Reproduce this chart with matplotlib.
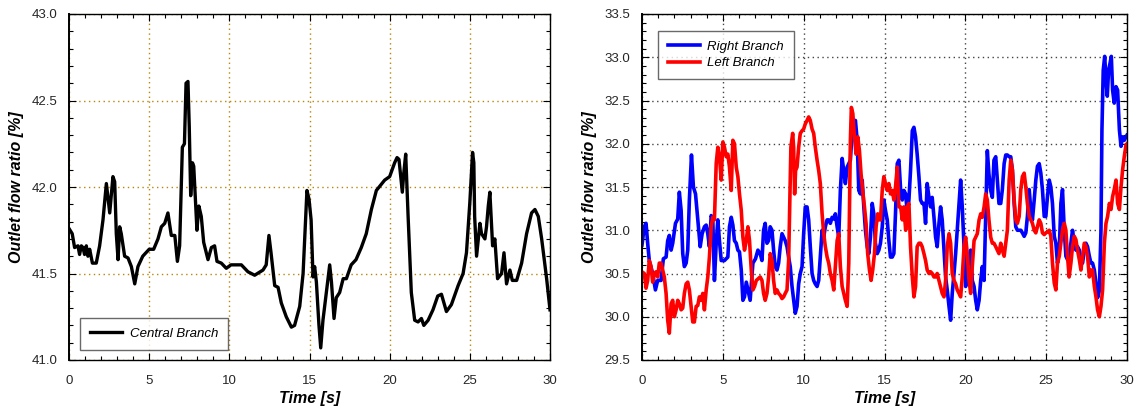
import matplotlib
matplotlib.use("Agg")
import matplotlib.pyplot as plt
from matplotlib.ticker import MultipleLocator, FormatStrFormatter

plt.rcParams['font.family'] = ['Liberation Sans', 'DejaVu Sans']

# ---------------- Left panel: central branch ----------------
t_central = [0, 0.2, 0.35, 0.56, 0.66, 0.77, 0.87, 0.97, 1.08, 1.18,
             1.29, 1.46, 1.7, 1.91, 2.12, 2.33, 2.44, 2.54, 2.74, 2.85,
             2.95, 3.06, 3.16, 3.26, 3.47, 3.68, 3.89, 4.1, 4.3, 4.6,
             5.0, 5.28, 5.55, 5.76, 5.97, 6.17, 6.38, 6.6, 6.76, 6.9,
             7.07, 7.2, 7.3, 7.42, 7.5, 7.59, 7.7, 7.78, 7.88, 7.98,
             8.1, 8.25, 8.4, 8.67, 8.88, 9.08, 9.23, 9.5, 9.81, 10.1,
             10.75, 11.16, 11.58, 12.1, 12.3, 12.47, 12.6, 12.83, 13.04, 13.24,
             13.55, 13.87, 14.07, 14.39, 14.6, 14.84, 14.97, 15.1, 15.22, 15.32,
             15.43, 15.59, 15.7, 15.84, 16.0, 16.26, 16.37, 16.53, 16.67, 16.88,
             17.1, 17.3, 17.6, 17.9, 18.23, 18.54, 18.86, 19.17, 19.69, 20.0,
             20.31, 20.46, 20.58, 20.79, 20.88, 21.0, 21.15, 21.35, 21.56, 21.77,
             21.98, 22.13, 22.4, 22.7, 23.0, 23.23, 23.54, 23.85, 24.27, 24.58,
             24.79, 25.0, 25.17, 25.25, 25.3, 25.42, 25.63, 25.73, 25.94, 26.04,
             26.15, 26.25, 26.42, 26.56, 26.73, 26.98, 27.13, 27.29, 27.5, 27.65,
             27.92, 28.23, 28.54, 28.85, 29.06, 29.27, 29.48, 29.79, 30.0]
central = [41.76, 41.73, 41.65, 41.66, 41.61, 41.66, 41.65, 41.61, 41.66, 41.60,
           41.64, 41.56, 41.56, 41.66, 41.81, 42.02, 41.93, 41.85, 42.06, 42.03,
           41.73, 41.58, 41.77, 41.73, 41.60, 41.59, 41.54, 41.44, 41.54, 41.60,
           41.64, 41.64, 41.70, 41.77, 41.79, 41.85, 41.72, 41.72, 41.57, 41.66,
           42.23, 42.25, 42.60, 42.61, 42.35, 41.95, 42.14, 42.12, 41.93, 41.75,
           41.89, 41.83, 41.68, 41.58, 41.65, 41.66, 41.57, 41.56, 41.53, 41.55,
           41.55, 41.51, 41.49, 41.52, 41.55, 41.72, 41.62, 41.43, 41.42, 41.33,
           41.25, 41.19, 41.20, 41.31, 41.50, 41.98, 41.93, 41.81, 41.48, 41.54,
           41.45, 41.20, 41.07, 41.23, 41.35, 41.55, 41.45, 41.24, 41.36, 41.39,
           41.47, 41.47, 41.55, 41.58, 41.65, 41.73, 41.87, 41.98, 42.04, 42.06,
           42.14, 42.17, 42.16, 41.97, 42.08, 42.19, 41.83, 41.39, 41.23, 41.22,
           41.24, 41.20, 41.23, 41.29, 41.37, 41.38, 41.28, 41.32, 41.43, 41.50,
           41.62, 41.91, 42.20, 42.14, 41.83, 41.60, 41.79, 41.73, 41.70, 41.77,
           41.89, 41.97, 41.66, 41.70, 41.47, 41.50, 41.62, 41.44, 41.52, 41.46,
           41.46, 41.56, 41.73, 41.85, 41.87, 41.83, 41.70, 41.47, 41.29]

# ---------------- Right panel: right branch (blue) ----------------
t_right = [0, 0.14, 0.25, 0.35, 0.45, 0.66, 0.83, 0.97, 1.18, 1.32,
           1.49, 1.59, 1.69, 1.8, 1.9, 2.07, 2.21, 2.31, 2.42, 2.52,
           2.62, 2.73, 2.83, 2.93, 3.06, 3.18, 3.31, 3.45, 3.6, 3.72,
           3.86, 3.97, 4.07, 4.17, 4.28, 4.38, 4.48, 4.59, 4.69, 4.79,
           4.9, 5.1, 5.31, 5.41, 5.52, 5.62, 5.72, 5.83, 5.93, 6.03,
           6.14, 6.24, 6.34, 6.45, 6.55, 6.69, 6.86, 7.02, 7.17,
           7.31, 7.42, 7.52, 7.62, 7.73, 7.83, 7.93, 8.04, 8.14, 8.24,
           8.35, 8.45, 8.55, 8.66, 8.76, 8.86, 8.97, 9.07, 9.17, 9.28,
           9.38, 9.48, 9.59, 9.69, 9.79, 9.9, 10.0, 10.1, 10.21, 10.31,
           10.41, 10.52, 10.62, 10.72, 10.83, 10.93, 11.03, 11.14, 11.24, 11.34,
           11.45, 11.55, 11.65, 11.76, 11.86, 11.96, 12.07, 12.17, 12.27, 12.38,
           12.48, 12.58, 12.69, 12.79, 12.89, 12.99, 13.1, 13.2, 13.31, 13.41,
           13.51, 13.62, 13.72, 13.82, 13.93, 14.03, 14.13, 14.24, 14.34, 14.44,
           14.55, 14.65,
           14.75, 14.86, 14.96, 15.06, 15.17, 15.27, 15.37, 15.48, 15.58, 15.68,
           15.79, 15.89, 16.0, 16.1, 16.2, 16.31, 16.41, 16.51, 16.61, 16.72,
           16.82, 16.92, 17.02, 17.13, 17.23, 17.33, 17.44, 17.54, 17.64, 17.75,
           17.85, 17.95, 18.06, 18.16, 18.26, 18.37, 18.47, 18.57, 18.68, 18.78,
           18.88, 18.99, 19.09, 19.19, 19.3, 19.4, 19.5, 19.61, 19.71, 19.81,
           19.92, 20.02, 20.12, 20.23, 20.33, 20.43, 20.54, 20.64, 20.74, 20.85,
           20.95, 21.05, 21.16, 21.26, 21.36, 21.46, 21.57, 21.67, 21.77, 21.88,
           21.98, 22.08,
           22.19, 22.29, 22.40, 22.50, 22.60, 22.71, 22.81, 22.91, 23.02, 23.12,
           23.22, 23.33, 23.43, 23.53, 23.64, 23.74, 23.84, 23.95, 24.05, 24.15,
           24.26, 24.36, 24.46, 24.57, 24.67, 24.77, 24.88, 24.98, 25.08, 25.19,
           25.29, 25.39, 25.5, 25.6, 25.7, 25.81, 25.91, 26.01, 26.12, 26.22,
           26.32, 26.42, 26.53, 26.63, 26.74, 26.84, 26.94, 27.05, 27.15, 27.25,
           27.36, 27.46, 27.56, 27.67, 27.77, 27.87, 27.98, 28.08, 28.18, 28.29,
           28.39, 28.45, 28.53, 28.62, 28.7, 28.78, 28.86, 28.95, 29.03, 29.11,
           29.21, 29.32, 29.42, 29.53, 29.63, 29.73, 29.83, 29.94, 30.0]
right_branch = [30.83, 31.04, 31.08, 30.85, 30.65, 30.50, 30.31, 30.42, 30.42, 30.67,
                30.69, 30.88, 30.94, 30.77, 30.85, 31.08, 31.13, 31.44, 31.23, 30.73,
                30.58, 30.62, 30.77, 31.35, 31.87, 31.50, 31.42, 31.12, 30.81, 30.96,
                31.04, 31.06, 30.96, 30.81, 31.17, 31.12, 30.42, 30.85, 31.12, 30.88,
                30.65, 30.65, 30.69, 31.04, 31.15, 31.06, 30.88, 30.85, 30.77, 30.75,
                30.54, 30.19, 30.23, 30.40, 30.31, 30.19, 30.62, 30.67, 30.77,
                30.73, 30.65, 31.00, 31.08, 30.85, 30.88, 31.04, 31.00, 30.77, 30.58,
                30.54, 30.62, 30.81, 30.96, 30.92, 30.88, 30.81, 30.69, 30.58, 30.35,
                30.19, 30.04, 30.12, 30.38, 30.50, 30.58, 30.96, 31.27, 31.27, 31.12,
                30.81, 30.50, 30.42, 30.38, 30.35, 30.42, 30.69, 31.00, 30.92, 31.04,
                31.12, 31.12, 31.08, 31.15, 31.13, 31.19, 31.04, 30.92, 31.46, 31.83,
                31.69, 31.54, 31.73, 31.77, 31.81, 32.12, 32.19, 32.27, 32.04, 31.46,
                31.42, 31.58, 31.27, 31.00, 30.81, 30.73, 30.92, 31.31, 31.19, 30.85,
                30.73, 30.77,
                30.85, 31.04, 31.35, 31.23, 31.12, 30.88, 30.69, 30.69, 30.73, 31.19,
                31.77, 31.81, 31.46, 31.35, 31.46, 31.42, 31.19, 31.35, 31.69, 32.15,
                32.19, 32.08, 31.88, 31.62, 31.35, 31.31, 31.31, 31.08, 31.54, 31.38,
                31.27, 31.38, 31.15, 30.92, 30.81, 31.08, 31.27, 31.12, 30.77, 30.46,
                30.31, 30.12, 29.96, 30.27, 30.50, 30.73, 31.00, 31.31, 31.58, 31.27,
                30.81, 30.35, 30.58, 30.65, 30.77, 30.42, 30.35, 30.19, 30.08, 30.19,
                30.42, 30.58, 30.42, 31.19, 31.92, 31.65, 31.46, 31.38, 31.81, 31.85,
                31.58, 31.31,
                31.31, 31.47, 31.77, 31.87, 31.87, 31.85, 31.85, 31.70, 31.31, 31.04,
                31.00, 31.00, 31.00, 30.97, 30.93, 30.97, 31.16, 31.47, 31.24, 31.12,
                31.35, 31.58, 31.74, 31.77, 31.66, 31.47, 31.16, 31.16, 31.39, 31.58,
                31.50, 31.31, 30.93, 30.85, 30.62, 30.77, 31.31, 31.47, 31.00, 30.70,
                30.66, 30.70, 30.85, 31.00, 30.85, 30.77, 30.81, 30.77, 30.66, 30.62,
                30.77, 30.85, 30.81, 30.70, 30.62, 30.62, 30.54, 30.39, 30.22, 30.30,
                31.00, 32.16, 32.85, 33.01, 32.74, 32.55, 32.85, 32.93, 33.01, 32.62,
                32.47, 32.66, 32.62, 32.16, 31.97, 32.08, 32.04, 32.08, 32.10]

# ---------------- Right panel: left branch (red) ----------------
t_left = [0, 0.14, 0.25, 0.35, 0.45, 0.56, 0.66, 0.76, 0.87, 0.97,
          1.07, 1.18, 1.28, 1.38, 1.49, 1.59, 1.69, 1.80, 1.90, 2.0,
          2.11, 2.21, 2.31, 2.42, 2.52, 2.62, 2.73, 2.83, 2.93, 3.04,
          3.14, 3.24, 3.35, 3.45, 3.55, 3.66, 3.76, 3.86, 3.97, 4.07,
          4.17, 4.28, 4.38, 4.48, 4.59, 4.69, 4.79, 4.90, 5.0, 5.10,
          5.21, 5.31, 5.41, 5.52, 5.62, 5.72, 5.83, 5.93, 6.03, 6.14,
          6.24, 6.34, 6.45, 6.55, 6.65, 6.76, 6.86, 6.96, 7.07,
          7.31, 7.42, 7.52, 7.62, 7.73, 7.83, 7.93, 8.04, 8.14, 8.24,
          8.35, 8.45, 8.55, 8.66, 8.76, 8.86, 8.97, 9.07, 9.13, 9.21,
          9.32, 9.38, 9.44, 9.50, 9.59, 9.69, 9.79, 9.90, 10.0, 10.10,
          10.21, 10.31, 10.41, 10.52, 10.62, 10.72, 10.83, 10.93, 11.03, 11.14,
          11.24, 11.34, 11.45, 11.55, 11.65, 11.76, 11.86, 11.96, 12.07, 12.17,
          12.27, 12.38, 12.48, 12.58, 12.69, 12.79, 12.89, 12.95, 13.04, 13.14,
          13.24, 13.35, 13.45, 13.55, 13.65, 13.76, 13.86, 13.96, 14.07, 14.17,
          14.27, 14.38, 14.48, 14.58, 14.69,
          14.75, 14.86, 14.96, 15.06, 15.17, 15.27, 15.37, 15.48, 15.58, 15.68,
          15.79, 15.89, 16.0, 16.1, 16.2, 16.31, 16.41, 16.51, 16.61, 16.72,
          16.82, 16.92, 17.02, 17.13, 17.23, 17.33, 17.44, 17.54, 17.64, 17.75,
          17.85, 17.95, 18.06, 18.16, 18.26, 18.37, 18.47, 18.57, 18.68, 18.78,
          18.88, 18.99, 19.09, 19.19, 19.3, 19.4, 19.5, 19.61, 19.71, 19.81,
          19.92, 20.02, 20.12, 20.23, 20.33, 20.43, 20.54, 20.64, 20.74, 20.85,
          20.95, 21.05, 21.16, 21.26, 21.36, 21.46, 21.57, 21.67, 21.77, 21.88,
          21.98, 22.08,
          22.19, 22.29, 22.40, 22.50, 22.60, 22.71, 22.81, 22.91, 23.02, 23.12,
          23.22, 23.33, 23.43, 23.53, 23.64, 23.74, 23.84, 23.95, 24.05, 24.15,
          24.26, 24.36, 24.46, 24.57, 24.67, 24.77, 24.88, 24.98, 25.08, 25.19,
          25.29, 25.39, 25.5, 25.6, 25.7, 25.81, 25.91, 26.01, 26.12, 26.22,
          26.32, 26.42, 26.53, 26.63, 26.74, 26.84, 26.94, 27.05, 27.15, 27.25,
          27.36, 27.46, 27.56, 27.67, 27.77, 27.87, 27.98, 28.08, 28.18, 28.29,
          28.39, 28.49, 28.6, 28.7, 28.8, 28.91, 29.01, 29.11, 29.21, 29.32,
          29.42, 29.53, 29.63, 29.73, 29.83, 29.94, 30.0]
left_branch = [30.52, 30.50, 30.33, 30.42, 30.65, 30.58, 30.40, 30.50, 30.52, 30.46,
               30.62, 30.62, 30.54, 30.46, 30.27, 29.96, 29.81, 30.15, 30.19, 30.00,
               30.08, 30.19, 30.15, 30.08, 30.10, 30.27, 30.38, 30.40, 30.31, 30.12,
               29.94, 29.94, 30.12, 30.13, 30.23, 30.19, 30.27, 30.08, 30.31, 30.46,
               30.69, 31.04, 31.15, 31.12, 31.77, 31.96, 31.85, 31.58, 32.02, 31.96,
               31.85, 31.88, 31.73, 31.46, 32.04, 32.00, 31.73, 31.62, 31.42, 31.23,
               30.92, 30.77, 30.88, 31.04, 30.88, 30.54, 30.31, 30.35, 30.42,
               30.46, 30.42, 30.27, 30.19, 30.27, 30.46, 30.73, 30.65, 30.42, 30.27,
               30.31, 30.27, 30.25, 30.21, 30.23, 30.27, 30.31, 30.65, 31.19, 31.96,
               32.12, 31.96, 31.42, 31.69, 31.73, 31.96, 32.12, 32.15, 32.17, 32.23,
               32.27, 32.31, 32.27, 32.17, 32.12, 31.96, 31.81, 31.69, 31.54, 31.19,
               30.96, 30.81, 30.69, 30.62, 30.50, 30.42, 30.31, 30.58, 30.88, 30.96,
               30.58, 30.35, 30.27, 30.19, 30.12, 30.62, 32.04, 32.42, 32.35, 32.08,
               31.88, 32.08, 31.92, 31.65, 31.46, 31.27, 31.08, 30.73, 30.54, 30.42,
               30.54, 30.73, 31.04, 31.19, 31.12,
               31.12, 31.46, 31.62, 31.54, 31.46, 31.54, 31.42, 31.46, 31.35, 31.50,
               31.73, 31.27, 31.27, 31.12, 31.27, 31.00, 31.27, 31.31, 30.81, 30.46,
               30.23, 30.35, 30.81, 30.85, 30.85, 30.81, 30.73, 30.65, 30.54, 30.50,
               30.52, 30.50, 30.46, 30.46, 30.50, 30.42, 30.35, 30.27, 30.23, 30.42,
               30.81, 30.96, 30.85, 30.50, 30.42, 30.38, 30.31, 30.27, 30.23, 30.46,
               30.81, 30.92, 30.73, 30.42, 30.27, 30.58, 30.88, 30.92, 30.96, 31.12,
               31.19, 31.15, 31.27, 31.42, 31.35, 31.12, 30.92, 30.85, 30.85, 30.81,
               30.77, 30.73,
               30.85, 30.77, 30.70, 30.85, 31.00, 31.58, 31.81, 31.70, 31.35, 31.12,
               31.08, 31.16, 31.47, 31.62, 31.66, 31.50, 31.31, 31.16, 31.12, 31.08,
               31.00, 30.97, 31.04, 31.12, 31.08, 30.97, 30.95, 30.97, 30.98, 31.00,
               30.93, 30.62, 30.39, 30.31, 30.62, 30.70, 30.85, 31.00, 31.08, 31.00,
               30.70, 30.46, 30.62, 30.81, 30.93, 30.89, 30.77, 30.66, 30.54, 30.70,
               30.85, 30.81, 30.70, 30.46, 30.54, 30.54, 30.35, 30.23, 30.08, 30.00,
               30.12, 30.31, 30.85, 31.08, 31.16, 31.31, 31.24, 31.39, 31.47, 31.58,
               31.31, 31.24, 31.50, 31.70, 31.85, 31.99, 32.00]

y_ticks_left = [41.0, 41.5, 42.0, 42.5, 43.0]
y_ticks_right = [29.5, 30.0, 30.5, 31.0, 31.5, 32.0, 32.5, 33.0, 33.5]
x_ticks = [0, 5, 10, 15, 20, 25, 30]

W, H = 1137, 408
fig = plt.figure(figsize=(W / 100, H / 100), dpi=100)
ax1 = fig.add_axes([69 / W, 48 / H, 481 / W, 346 / H])
ax2 = fig.add_axes([642 / W, 48 / H, 485 / W, 346 / H])

label_font = dict(fontsize=11.5, fontweight='bold', fontstyle='italic')


def style(ax, yticks, grid_color):
    ax.set_xlim(0, 30)
    ax.set_ylim(yticks[0], yticks[-1])
    ax.set_xticks(x_ticks)
    ax.set_yticks(yticks)
    ax.xaxis.set_minor_locator(MultipleLocator(1))
    ax.yaxis.set_minor_locator(MultipleLocator(0.1))
    ax.yaxis.set_major_formatter(FormatStrFormatter('%.1f'))
    ax.tick_params(which='both', direction='in', top=True, right=True,
                   labelsize=9.5, labelcolor='#262626', width=0.8)
    ax.tick_params(which='major', length=5)
    ax.tick_params(which='minor', length=3)
    ax.tick_params(axis='x', which='major', pad=11)
    ax.tick_params(axis='y', which='major', pad=8.5)
    for s in ax.spines.values():
        s.set_linewidth(1.0)
        s.set_color('black')
    ax.spines['left'].set_linewidth(1.4)
    ax.grid(True, which='major', linestyle=(0, (1, 2.5)), color=grid_color,
            linewidth=1.0)
    ax.set_axisbelow(True)
    ax.set_xlabel('Time [s]', labelpad=3, **label_font)
    ax.set_ylabel('Outlet flow ratio [%]', labelpad=5, **label_font)


style(ax1, y_ticks_left, '#b8860b')
style(ax2, y_ticks_right, '#444444')

ax1.plot(t_central, central, color='black', linewidth=2.4, label='Central Branch',
         solid_joinstyle='round')
ax2.plot(t_right, right_branch, color='#0000ff', linewidth=2.6, label='Right Branch',
         solid_joinstyle='round')
ax2.plot(t_left, left_branch, color='#ff0000', linewidth=2.6, label='Left Branch',
         solid_joinstyle='round')

leg_kw = dict(frameon=True, fancybox=False, edgecolor='#444444',
              prop={'size': 9.5, 'style': 'italic'}, handlelength=2.4,
              handletextpad=0.6, borderpad=0.75, borderaxespad=0)
leg1 = ax1.legend(loc='lower left', bbox_to_anchor=(0.023, 0.029), **leg_kw)
leg2 = ax2.legend(loc='upper left', bbox_to_anchor=(0.033, 0.951),
                  labelspacing=0.3, **leg_kw)
for lg in (leg1, leg2):
    lg.get_frame().set_linewidth(1.0)

fig.savefig('out.png', dpi=100)
